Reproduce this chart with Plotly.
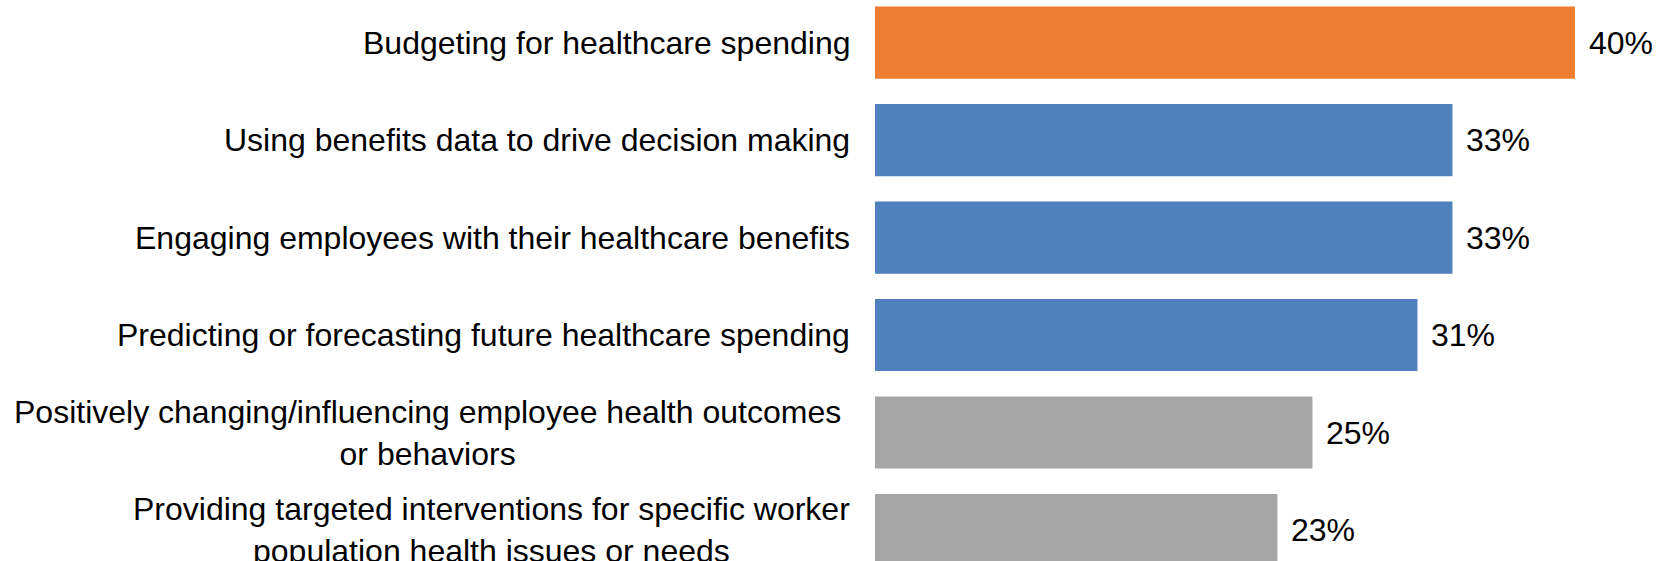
import plotly.graph_objects as go

categories = [
    "Budgeting for healthcare spending",
    "Using benefits data to drive decision making",
    "Engaging employees with their healthcare benefits",
    "Predicting or forecasting future healthcare spending",
    "Positively changing/influencing employee health outcomes\u00a0<br>or behaviors\u00a0",
    "Providing targeted interventions for specific worker<br>population health issues or needs",
]
values = [40, 33, 33, 31, 25, 23]
value_labels = ["40%", "33%", "33%", "31%", "25%", "23%"]
colors = ["#ED7D31", "#4F81BD", "#4F81BD", "#4F81BD", "#A5A5A5", "#A5A5A5"]

FONT = "Liberation Sans, Arial, sans-serif"

fig = go.Figure(
    go.Bar(
        x=values,
        y=categories,
        orientation="h",
        marker=dict(color=colors, line=dict(width=0)),
        width=0.74,
        hoverinfo="skip",
    )
)

annotations = []
for cat, val, lab in zip(categories, values, value_labels):
    annotations.append(dict(
        x=val, y=cat, xref="x", yref="y", text=lab, showarrow=False,
        xanchor="left", yanchor="middle", xshift=12,
        font=dict(family=FONT, size=32, color="#000000"),
    ))
    annotations.append(dict(
        x=0, y=cat, xref="paper", yref="y", text=cat, showarrow=False,
        xanchor="right", yanchor="middle", xshift=-23, align="center",
        font=dict(family=FONT, size=32, color="#000000"),
    ))

fig.update_layout(
    width=1671, height=561,
    margin=dict(l=875, r=0, t=0, b=0),
    paper_bgcolor="white", plot_bgcolor="white",
    showlegend=False,
    annotations=annotations,
    xaxis=dict(range=[0, 45.49], visible=False, showgrid=False, zeroline=False),
    yaxis=dict(range=[5.318, -0.437], showticklabels=False, showgrid=False,
               zeroline=False, showline=False, ticks=""),
)

fig.write_html(
    "out.html",
    config={"displayModeBar": False},
    post_script="document.body.style.margin='0';document.body.style.overflow='hidden';",
)
